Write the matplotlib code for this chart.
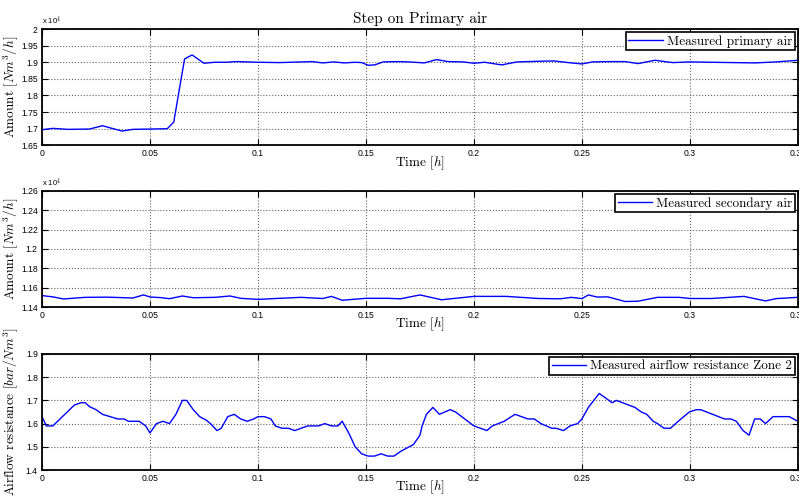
import matplotlib
matplotlib.use("Agg")
import matplotlib.pyplot as plt
from matplotlib.ticker import FormatStrFormatter, MultipleLocator

# primary air [x 1e4 Nm3/h]
tPrim = [0, 0.005, 0.012, 0.022, 0.028, 0.033, 0.037, 0.042, 0.05, 0.058, 0.061, 0.066, 0.0695,
         0.075, 0.08, 0.085, 0.09, 0.1, 0.11, 0.12, 0.125, 0.13, 0.135, 0.14, 0.145, 0.148, 0.151,
         0.154, 0.158, 0.165, 0.17, 0.177, 0.1827, 0.188, 0.195, 0.2, 0.205, 0.2128, 0.22, 0.23,
         0.237, 0.245, 0.25, 0.255, 0.263, 0.27, 0.276, 0.2838, 0.292, 0.3, 0.31, 0.32, 0.33,
         0.34, 0.35]
primAir = [1.697, 1.701, 1.698, 1.699, 1.709, 1.700, 1.693, 1.698, 1.699, 1.700, 1.72, 1.91, 1.922,
           1.897, 1.900, 1.900, 1.902, 1.900, 1.899, 1.901, 1.902, 1.898, 1.901, 1.898, 1.900, 1.899,
           1.891, 1.892, 1.901, 1.902, 1.901, 1.898, 1.908, 1.902, 1.901, 1.897, 1.900, 1.892, 1.901,
           1.903, 1.904, 1.898, 1.895, 1.901, 1.902, 1.902, 1.896, 1.906, 1.899, 1.901, 1.900, 1.899,
           1.898, 1.901, 1.906]

# secondary air [x 1e4 Nm3/h]
tSec = [0, 0.005, 0.01, 0.015, 0.02, 0.03, 0.036, 0.042, 0.047, 0.05, 0.055, 0.059, 0.065, 0.07,
        0.08, 0.087, 0.092, 0.1, 0.11, 0.12, 0.13, 0.134, 0.139, 0.15, 0.16, 0.166, 0.175, 0.185,
        0.2, 0.215, 0.23, 0.24, 0.245, 0.25, 0.253, 0.257, 0.262, 0.27, 0.276, 0.285, 0.295, 0.3,
        0.31, 0.325, 0.335, 0.34, 0.35]
secAir = [1.1518, 1.1505, 1.1483, 1.1492, 1.150, 1.1502, 1.1498, 1.1493, 1.1525, 1.1504, 1.1497,
          1.1486, 1.1514, 1.1496, 1.1500, 1.1514, 1.149, 1.1479, 1.149, 1.150, 1.1488, 1.151, 1.147,
          1.149, 1.149, 1.1485, 1.1525, 1.1475, 1.151, 1.151, 1.1488, 1.1485, 1.150, 1.1487, 1.1525,
          1.1503, 1.1505, 1.1457, 1.146, 1.150, 1.150, 1.1488, 1.1488, 1.151, 1.1463, 1.1487, 1.150]

# airflow resistance zone 2 [bar/Nm3]
tRes = [0, 0.002, 0.005, 0.015, 0.018, 0.02, 0.022, 0.025, 0.028, 0.035, 0.038, 0.04, 0.045, 0.048,
        0.05, 0.053, 0.056, 0.059, 0.062, 0.065, 0.067, 0.07, 0.073, 0.076, 0.078, 0.081, 0.083,
        0.086, 0.089, 0.092, 0.095, 0.098, 0.1, 0.103, 0.106, 0.108, 0.111, 0.114, 0.117, 0.12,
        0.123, 0.128, 0.131, 0.134, 0.137, 0.139, 0.142, 0.145, 0.148, 0.151, 0.154, 0.157, 0.16,
        0.163, 0.166, 0.172, 0.175, 0.176, 0.178, 0.181, 0.184, 0.189, 0.1915, 0.2, 0.206, 0.2085,
        0.214, 0.219, 0.225, 0.228, 0.231, 0.236, 0.238, 0.2415, 0.2445, 0.248, 0.25, 0.253, 0.258,
        0.264, 0.266, 0.2745, 0.2775, 0.28, 0.283, 0.285, 0.288, 0.291, 0.2946, 0.2997, 0.303, 0.305,
        0.316, 0.319, 0.3215, 0.3246, 0.3274, 0.33, 0.3326, 0.335, 0.3385, 0.346, 0.35]
resZone2 = [1.63, 1.59, 1.59, 1.68, 1.69, 1.69, 1.673, 1.66, 1.64, 1.62, 1.62, 1.61, 1.61, 1.59,
            1.56, 1.60, 1.61, 1.60, 1.64, 1.70, 1.70, 1.66, 1.63, 1.615, 1.60, 1.57, 1.58,
            1.63, 1.64, 1.62, 1.61, 1.62, 1.63, 1.63, 1.62, 1.59, 1.58, 1.58, 1.57, 1.58,
            1.59, 1.59, 1.60, 1.59, 1.59, 1.61, 1.56, 1.50, 1.47, 1.46, 1.46, 1.47, 1.46,
            1.46, 1.48, 1.51, 1.55, 1.59, 1.64, 1.67, 1.64, 1.66, 1.65, 1.59, 1.57, 1.59,
            1.61, 1.64, 1.62, 1.62, 1.60, 1.58, 1.58, 1.57, 1.59, 1.60, 1.62, 1.67, 1.73,
            1.69, 1.70, 1.67, 1.65, 1.64, 1.61, 1.60, 1.58, 1.58, 1.61, 1.65, 1.66, 1.66,
            1.62, 1.62, 1.61, 1.57, 1.55, 1.62, 1.62, 1.60, 1.63, 1.63, 1.61]

xTicks = [0, 0.05, 0.1, 0.15, 0.2, 0.25, 0.3, 0.35]

plt.rcParams['font.family'] = ['Liberation Sans', 'DejaVu Sans']
plt.rcParams['mathtext.fontset'] = 'cm'
plt.rcParams['axes.formatter.use_mathtext'] = True

serif = 'cmr10'

fig = plt.figure(figsize=(7.99, 4.98), dpi=100)
ax1 = fig.add_axes([0.0526, 0.7082, 0.946, 0.2335])
ax2 = fig.add_axes([0.0526, 0.3835, 0.946, 0.2330])
ax3 = fig.add_axes([0.0526, 0.0562, 0.946, 0.2330])

panels = [
    (ax1, tPrim, primAir, 'Measured primary air', (1.65, 2.0), 0.05, r'Amount $[Nm^3/h]$', True),
    (ax2, tSec, secAir, 'Measured secondary air', (1.14, 1.26), 0.02, r'Amount $[Nm^3/h]$', True),
    (ax3, tRes, resZone2, 'Measured airflow resistance Zone 2', (1.4, 1.9), 0.1,
     r'Airflow resistance $[bar/Nm^3]$', False),
]

for ax, t, v, lab, ylim, ystep, ylab, scaled in panels:
    ax.plot(t, v, color=(0, 0, 1), linewidth=1.0, label=lab)
    ax.set_xlim(0, 0.35)
    ax.set_ylim(*ylim)
    ax.set_xticks(xTicks)
    ax.yaxis.set_major_locator(MultipleLocator(ystep))
    ax.xaxis.set_major_formatter(FormatStrFormatter('%g'))
    ax.yaxis.set_major_formatter(FormatStrFormatter('%g'))
    ax.tick_params(direction='in', top=True, right=True, labelsize=6.2, length=4, width=0.8, pad=3)
    ax.grid(True, color='0.4', linestyle=':', linewidth=0.8)
    for s in ax.spines.values():
        s.set_linewidth(1.3)
    ax.set_xlabel(r'Time $[h]$', fontfamily=serif, fontsize=9.5)
    ax.xaxis.set_label_coords(0.5, -0.075)
    ax.set_ylabel(ylab, fontfamily=serif, fontsize=9.5)
    ax.yaxis.set_label_coords(-0.029, 0.5)
    leg = ax.legend(loc='upper right', prop={'family': serif, 'size': 9.5}, fancybox=False,
                    framealpha=1, edgecolor='black', borderpad=0.2, handlelength=2.6,
                    handletextpad=0.3, borderaxespad=0.25)
    leg.get_frame().set_linewidth(1.2)
    if scaled:
        ax.text(0, 1.015, r'x 10$^4$', transform=ax.transAxes, fontsize=5.5, va='bottom')

ax1.set_title('Step on Primary air', fontfamily=serif, fontsize=11, pad=4)

fig.savefig('out.png', dpi=100)
